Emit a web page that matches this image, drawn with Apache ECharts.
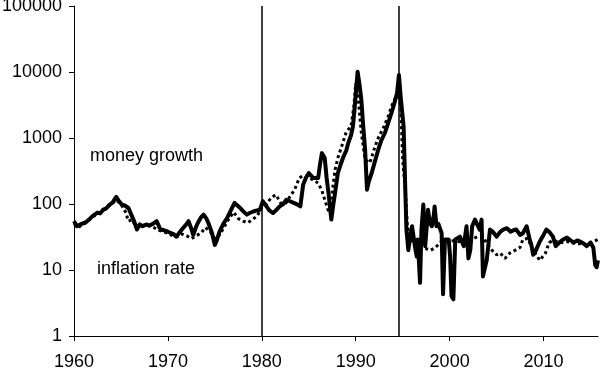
<!DOCTYPE html>
<html>
<head>
<meta charset="utf-8">
<script src="https://cdn.jsdelivr.net/npm/echarts@6/dist/echarts.min.js"></script>
<style>
html,body{margin:0;padding:0;background:#fff;}
#chart{width:600px;height:368px;}
</style>
</head>
<body>
<div id="chart"></div>
<script>
// ---- data (annual growth rates, %, log scale) ----
var moneyYears = [1960.0,1960.3,1960.5,1960.8,1961.0,1961.2,1961.35,1961.7,1962.0,1962.2,1962.5,1962.8,1963.1,1963.4,1963.6,1963.8,1964.1,1964.5,1964.8,1965.1,1965.4,1965.8,1966.1,1966.4,1966.7,1967.0,1967.3,1967.7,1968.0,1968.4,1968.8,1969.2,1969.6,1970.0,1970.2,1970.6,1970.9,1971.3,1971.6,1972.0,1972.2,1972.5,1972.7,1973.0,1973.2,1973.5,1973.8,1974.1,1974.3,1974.7,1975.0,1975.2,1975.5,1975.9,1976.3,1976.7,1977.1,1977.4,1977.7,1978.0,1978.4,1978.7,1979.1,1979.5,1979.8,1980.1,1980.5,1980.8,1981.2,1981.5,1981.9,1982.3,1982.6,1983.0,1983.4,1983.8,1984.1,1984.4,1984.7,1985.0,1985.5,1986.0,1986.2,1986.4,1986.7,1986.9,1987.1,1987.4,1987.6,1987.8,1988.1,1988.4,1988.7,1989.0,1989.2,1989.5,1989.7,1989.9,1990.2,1990.4,1990.6,1990.8,1991.0,1991.2,1991.4,1991.7,1992.0,1992.4,1992.7,1993.1,1993.4,1993.8,1994.1,1994.4,1994.6,1994.8,1995.1,1995.25,1995.4,1995.6,1995.8,1996.0,1996.3,1996.5,1996.6,1996.85,1997.0,1997.2,1997.4,1997.7,1997.9,1998.1,1998.3,1998.4,1998.6,1998.8,1999.15,1999.3,1999.5,1999.9,2000.05,2000.2,2000.4,2000.6,2001.1,2001.5,2001.8,2002.0,2002.2,2002.4,2002.7,2002.9,2003.2,2003.4,2003.55,2003.7,2003.95,2004.3,2004.6,2005.0,2005.4,2005.7,2006.1,2006.5,2006.8,2007.1,2007.5,2007.8,2008.2,2008.5,2008.7,2008.9,2009.2,2009.6,2010.0,2010.3,2010.6,2011.0,2011.3,2011.8,2012.1,2012.5,2012.9,2013.2,2013.6,2013.9,2014.3,2014.6,2015.0,2015.3,2015.5,2015.65,2015.8];
var moneyValues = [55,46,43,50,48,52,55,60,66,69,74,72,82,85,80,98,105,128,110,98,95,87,69,55,41,49,46,49,47,50,55,41,40,38,36,35,32,38,43,50,55,42,34,45,52,62,69,60,52,36,24,28,38,50,61,80,104,95,87,78,69,73,77,80,82,110,92,80,73,80,92,100,116,110,104,98,92,195,250,295,247,247,400,590,497,250,147,58,95,147,295,400,525,650,835,1100,1490,3000,10100,6500,3780,1500,665,165,220,295,420,665,900,1190,1600,2380,3300,4780,9000,4000,1490,232,41,20,32,46,23,16,29,6.4,41,98,23,82,52,46,65,92,46,50,36,4.3,29,29,16,4,3.6,29,32,23,46,15,20,46,58,61,41,58,8,10,14,41,38,32,38,41,43,38,40,41,34,36,46,30,24,17,20,27,34,41,38,32,23,27,29,31,28,26,28,27,25,23,26,22,12,11,14];

var inflationYears = [1960.0,1960.5,1961.0,1961.5,1962.0,1962.5,1963.0,1963.5,1964.0,1964.5,1965.0,1965.5,1965.8,1966.2,1966.6,1967.0,1967.5,1968.0,1968.5,1969.0,1969.5,1970.0,1970.5,1971.0,1971.5,1972.0,1972.5,1973.0,1973.5,1974.0,1974.5,1975.0,1975.5,1976.0,1976.5,1977.0,1977.5,1978.0,1978.5,1979.0,1979.5,1980.0,1980.5,1981.0,1981.5,1982.0,1982.5,1983.0,1983.5,1984.0,1984.5,1985.0,1985.5,1986.0,1986.4,1986.7,1987.0,1987.2,1987.5,1987.8,1988.1,1988.5,1989.0,1989.5,1989.8,1990.0,1990.3,1990.6,1991.0,1991.5,1992.0,1992.3,1993.0,1993.5,1993.8,1994.2,1994.5,1994.8,1995.0,1995.3,1995.5,1995.8,1996.2,1996.6,1997.0,1997.5,1998.0,1998.5,1999.0,1999.5,2000.0,2000.5,2001.0,2001.5,2002.0,2002.5,2003.0,2003.5,2004.0,2004.5,2005.0,2005.4,2005.9,2006.4,2007.0,2007.5,2007.8,2008.3,2008.9,2009.6,2010.2,2010.6,2011.0,2011.5,2012.0,2012.5,2013.0,2013.5,2014.0,2014.5,2015.0,2015.8];
var inflationValues = [50,44,52,56,64,70,78,88,100,115,100,75,55,58,45,46,48,47,44,40,38,36,33,32,35,33,30,33,36,44,38,30,34,45,60,75,60,55,52,58,66,88,100,125,138,104,100,130,165,250,270,250,230,208,160,116,85,74,150,330,500,745,1250,1490,3000,6760,3500,1200,470,420,700,935,1490,2200,3000,4000,5360,3000,470,150,46,30,25,23,21,21,20,22,26,28,27,28,27,26,28,30,32,32,25,20,17,18,15,18,20,22,29,30,20,14,18,26,28,27,26,27,26,25,25,24,26,29];

var regimeChanges = [1980, 1994.6];
var annotations = ['money growth', 'inflation rate'];

function zip(xs, ys) { return xs.map(function (x, i) { return [x, ys[i]]; }); }

var FONT = "'Liberation Sans', Arial, Helvetica, sans-serif";
var chart = echarts.init(document.getElementById('chart'), null, {renderer: 'canvas'});
chart.setOption({
  animation: false,
  backgroundColor: '#fff',
  grid: {left: 74, right: 2, top: 6, bottom: 32, containLabel: false, outerBoundsMode: 'none'},
  xAxis: {
    type: 'value', min: 1960, max: 2015.8, interval: 10,
    axisLine: {show: true, onZero: false, lineStyle: {color: '#000', width: 1}},
    axisTick: {show: true, inside: false, length: 5, lineStyle: {color: '#000'}},
    axisLabel: {show: true, showMaxLabel: false, margin: 17, color: '#000', fontSize: 18, fontFamily: FONT,
      formatter: function (v) { return (v % 10 === 0) ? String(v) : ''; }},
    splitLine: {show: false}
  },
  yAxis: {
    type: 'log', logBase: 10, min: 1, max: 100000,
    axisLine: {show: true, lineStyle: {color: '#000', width: 1}},
    axisTick: {show: true, inside: false, length: 5, lineStyle: {color: '#000'}},
    axisLabel: {show: true, margin: 12, color: '#000', fontSize: 18, fontFamily: FONT,
      formatter: function (v) { return String(Math.round(v)); }},
    splitLine: {show: false}, minorTick: {show: false}
  },
  graphic: [
    {type: 'text', left: 90, top: 147, style: {text: annotations[0], fill: '#000', font: '18px ' + FONT}},
    {type: 'text', left: 97, top: 260, style: {text: annotations[1], fill: '#000', font: '18px ' + FONT}}
  ],
  series: [
    {
      name: 'inflation rate', type: 'line', showSymbol: false, symbol: 'none',
      data: zip(inflationYears, inflationValues),
      lineStyle: {color: '#000', width: 3, type: [3, 3], cap: 'butt'},
      z: 2
    },
    {
      name: 'money growth', type: 'line', showSymbol: false, symbol: 'none',
      data: zip(moneyYears, moneyValues),
      lineStyle: {color: '#000', width: 4, join: 'round'},
      z: 3,
      markLine: {
        silent: true, symbol: ['none', 'none'], label: {show: false},
        lineStyle: {color: '#000', width: 1.5, type: 'solid'},
        data: regimeChanges.map(function (y) { return {xAxis: y}; })
      }
    }
  ]
});
</script>
</body>
</html>
